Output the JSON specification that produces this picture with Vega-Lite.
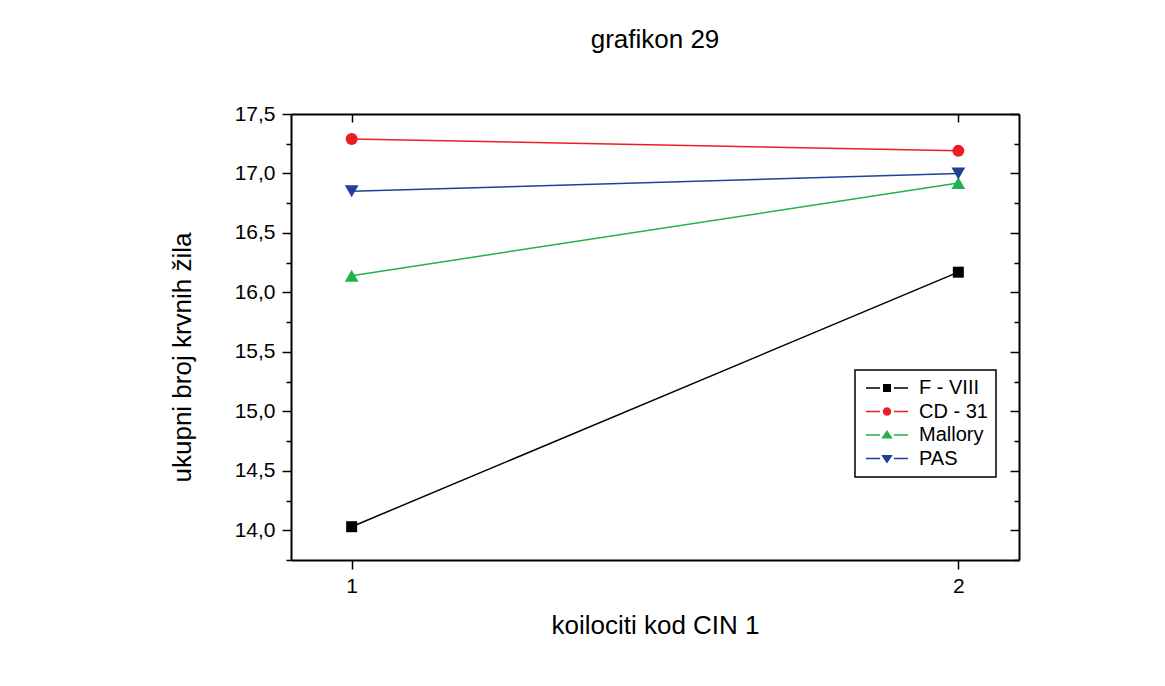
{
  "$schema": "https://vega.github.io/schema/vega-lite/v6.json",
  "autosize": "none",
  "width": 728,
  "height": 446,
  "padding": {"left": 291, "top": 114, "right": 146, "bottom": 126},
  "background": "white",
  "title": {"text": "grafikon 29", "fontSize": 26, "fontWeight": "normal", "font": "Liberation Sans", "color": "black", "baseline": "alphabetic", "offset": 29, "anchor": "middle"},
  "config": {
    "view": {"stroke": null},
    "font": "Liberation Sans",
    "axis": {"domainColor": "black", "domainWidth": 2, "tickColor": "black", "tickWidth": 1.5, "labelColor": "black", "labelFont": "Liberation Sans", "titleFont": "Liberation Sans", "titleColor": "black", "grid": false, "labelFlush": false, "labelOverlap": false}
  },
  "data": {"values": [
    {"series": "F - VIII", "x": 1, "y": 14.03},
    {"series": "F - VIII", "x": 2, "y": 16.17},
    {"series": "CD - 31", "x": 1, "y": 17.29},
    {"series": "CD - 31", "x": 2, "y": 17.19},
    {"series": "Mallory", "x": 1, "y": 16.14},
    {"series": "Mallory", "x": 2, "y": 16.92},
    {"series": "PAS", "x": 1, "y": 16.85},
    {"series": "PAS", "x": 2, "y": 17.0}
  ]},
  "resolve": {"axis": {"x": "independent", "y": "independent"}},
  "encoding": {
    "color": {"field": "series", "type": "nominal", "scale": {"domain": ["F - VIII", "CD - 31", "Mallory", "PAS"], "range": ["#000000", "#ed1c24", "#22b14c", "#21409a"]},
      "legend": {"title": null, "orient": "none", "legendX": 564, "legendY": 256, "padding": 8, "strokeColor": "black", "fillColor": "white", "cornerRadius": 0,
        "labelFontSize": 20, "labelFont": "Liberation Sans", "labelColor": "black", "labelOffset": 22, "symbolOffset": 14, "symbolSize": 100, "symbolStrokeWidth": 0, "rowPadding": 3.5,
        "encode": {"legend": {"update": {"strokeWidth": {"value": 1.5}}}}}}
  },
  "layer": [
    {
      "mark": {"type": "line", "strokeWidth": 1.5},
      "encoding": {
        "x": {"field": "x", "type": "quantitative", "scale": {"domain": [0.9, 2.1], "nice": false, "zero": false},
          "axis": {"orient": "bottom", "values": [1, 2], "format": "d", "tickSize": 9, "labelFontSize": 21, "labelPadding": 6, "title": "koilociti kod CIN 1", "titleFontSize": 26, "titleFontWeight": "normal", "titleBaseline": "alphabetic", "titleY": 73}},
        "y": {"field": "y", "type": "quantitative", "scale": {"domain": [13.75, 17.5], "nice": false, "zero": false},
          "axis": {"orient": "left", "values": [13.75, 14, 14.25, 14.5, 14.75, 15, 15.25, 15.5, 15.75, 16, 16.25, 16.5, 16.75, 17, 17.25, 17.5],
            "labelExpr": "(datum.value * 4) % 2 == 0 ? replace(format(datum.value, '.1f'), '.', ',') : ''",
            "tickSize": {"expr": "(datum.value * 4) % 2 == 0 ? 9 : 5"},
            "labelFontSize": 21, "labelPadding": 7,
            "title": "ukupni broj krvnih žila", "titleFontSize": 26, "titleFontWeight": "normal", "titleBaseline": "alphabetic", "titleX": -101, "titleY": 243}},
        "detail": {"field": "series"}
      }
    },
    {
      "transform": [{"filter": "false"}],
      "mark": {"type": "point", "filled": true, "opacity": 1},
      "encoding": {
        "x": {"field": "x", "type": "quantitative", "axis": null},
        "y": {"field": "y", "type": "quantitative", "axis": null},
        "shape": {"field": "series", "type": "nominal", "scale": {"domain": ["F - VIII", "CD - 31", "Mallory", "PAS"], "range": [
          "M-4.2,-0.15H-1.4V0.15H-4.2Z M1.4,-0.15H4.2V0.15H1.4Z M-0.8,-0.8H0.8V0.8H-0.8Z",
          "M-4.2,-0.15H-1.4V0.15H-4.2Z M1.4,-0.15H4.2V0.15H1.4Z M0.85,0L0.736,0.425L0.425,0.736L0,0.85L-0.425,0.736L-0.736,0.425L-0.85,0L-0.736,-0.425L-0.425,-0.736L0,-0.85L0.425,-0.736L0.736,-0.425Z",
          "M-4.2,-0.15H-1.4V0.15H-4.2Z M1.4,-0.15H4.2V0.15H1.4Z M0,-1L1.15,0.7L-1.15,0.7Z",
          "M-4.2,-0.15H-1.4V0.15H-4.2Z M1.4,-0.15H4.2V0.15H1.4Z M0,1L1.15,-0.7L-1.15,-0.7Z"]}}
      }
    },
    {
      "transform": [{"filter": "datum.series === 'F - VIII'"}],
      "mark": {"type": "point", "filled": true, "opacity": 1, "shape": "square", "size": 121},
      "encoding": {
        "x": {"field": "x", "type": "quantitative",
          "axis": {"orient": "top", "values": [1, 2], "labels": false, "tickSize": -8, "title": null}},
        "y": {"field": "y", "type": "quantitative",
          "axis": {"orient": "right", "values": [13.75, 14, 14.25, 14.5, 14.75, 15, 15.25, 15.5, 15.75, 16, 16.25, 16.5, 16.75, 17, 17.25, 17.5], "labels": false,
            "tickSize": {"expr": "(datum.value * 4) % 2 == 0 ? -9 : -5"}, "title": null}}
      }
    },
    {
      "transform": [{"filter": "datum.series === 'CD - 31'"}],
      "mark": {"type": "point", "filled": true, "opacity": 1, "shape": "circle", "size": 144},
      "encoding": {
        "x": {"field": "x", "type": "quantitative", "axis": null},
        "y": {"field": "y", "type": "quantitative", "axis": null}
      }
    },
    {
      "transform": [{"filter": "datum.series === 'Mallory'"}],
      "mark": {"type": "point", "filled": true, "opacity": 1, "shape": "triangle-up", "size": 190},
      "encoding": {
        "x": {"field": "x", "type": "quantitative", "axis": null},
        "y": {"field": "y", "type": "quantitative", "axis": null}
      }
    },
    {
      "transform": [{"filter": "datum.series === 'PAS'"}],
      "mark": {"type": "point", "filled": true, "opacity": 1, "shape": "triangle-down", "size": 190},
      "encoding": {
        "x": {"field": "x", "type": "quantitative", "axis": null},
        "y": {"field": "y", "type": "quantitative", "axis": null}
      }
    }
  ]
}
